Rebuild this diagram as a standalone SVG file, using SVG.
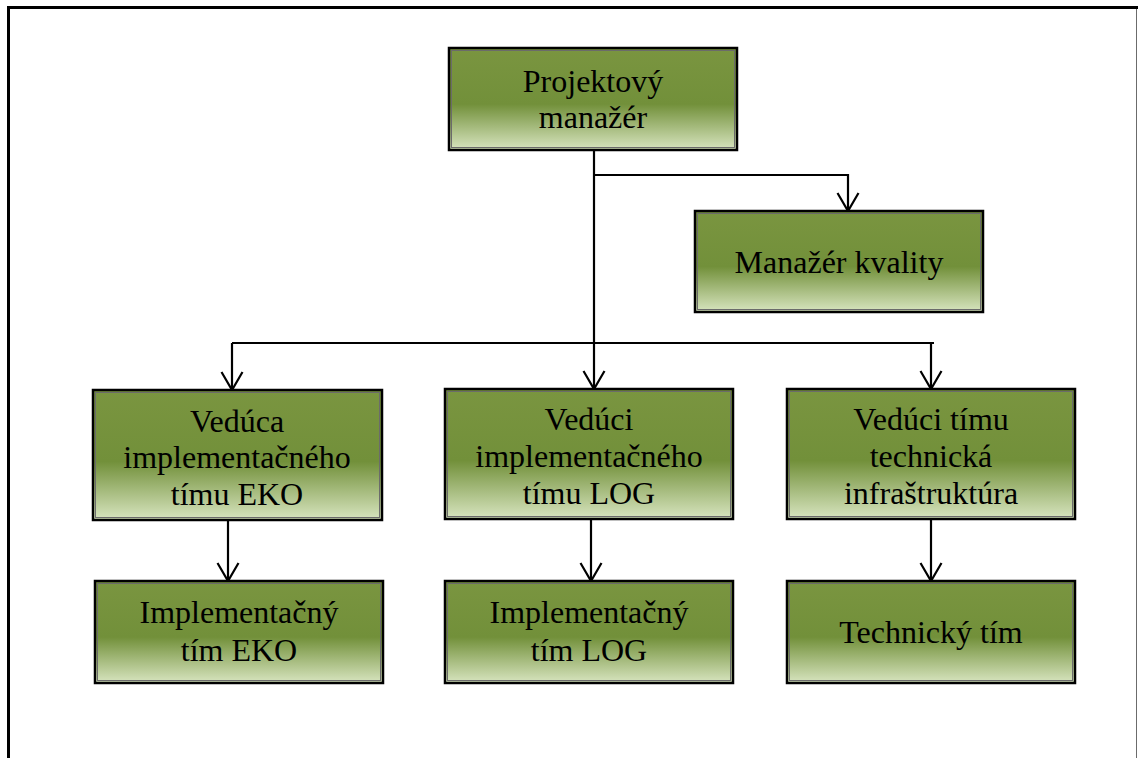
<svg xmlns="http://www.w3.org/2000/svg" width="1138" height="758" viewBox="0 0 1138 758">
  <defs>
    <linearGradient id="boxFill" x1="0" y1="0" x2="0" y2="1">
      <stop offset="0" stop-color="#7A9540"/>
      <stop offset="0.55" stop-color="#72903A"/>
      <stop offset="1" stop-color="#D8E5C0"/>
    </linearGradient>
    <marker id="arrow" markerUnits="userSpaceOnUse" markerWidth="40" markerHeight="40" refX="0" refY="0" orient="auto" overflow="visible">
      <path d="M-18,-10.5 L0,0 L-18,10.5" fill="none" stroke="#000" stroke-width="2.2"/>
    </marker>
  </defs>
  <style>
    .outer { fill: url(#boxFill); stroke: #000; stroke-width: 2.5; }
    .inner { fill: none; stroke: #6b6b6b; stroke-width: 1; }
    .label { font-family: "Liberation Serif", "Times New Roman", serif; font-size: 32px; fill: #000; text-anchor: middle; }
    .conn { fill: none; stroke: #000; stroke-width: 2.2; }
  </style>

  <rect width="1138" height="758" fill="#fff"/>

  <!-- page frame -->
  <g id="frame">
    <path d="M8.5,758 L8.5,7.5 L1138,7.5" fill="none" stroke="#000" stroke-width="3"/>
    <line x1="1136.5" y1="9" x2="1136.5" y2="758" stroke="#6b6b6b" stroke-width="1"/>
  </g>

  <!-- connectors -->
  <g id="connectors">
    <line class="conn" x1="594" y1="150" x2="594" y2="389" marker-end="url(#arrow)"/>
    <polyline class="conn" points="594,175 848,175 848,211" marker-end="url(#arrow)"/>
    <line class="conn" x1="232" y1="343" x2="934" y2="343"/>
    <line class="conn" x1="232" y1="343" x2="232" y2="390" marker-end="url(#arrow)"/>
    <line class="conn" x1="931" y1="343" x2="931" y2="389" marker-end="url(#arrow)"/>
    <line class="conn" x1="228" y1="520" x2="228" y2="581" marker-end="url(#arrow)"/>
    <line class="conn" x1="591" y1="519" x2="591" y2="581" marker-end="url(#arrow)"/>
    <line class="conn" x1="931" y1="519" x2="931" y2="581" marker-end="url(#arrow)"/>
  </g>

  <g id="projektovy-manazer">
    <rect class="outer" x="449" y="48" width="288" height="102"/>
    <rect class="inner" x="451.5" y="50.5" width="283" height="97"/>
    <text class="label" x="593" y="92">Projektový</text>
    <text class="label" x="593" y="128">manažér</text>
  </g>

  <g id="manazer-kvality">
    <rect class="outer" x="695" y="211" width="288" height="101"/>
    <rect class="inner" x="697.5" y="213.5" width="283" height="96"/>
    <text class="label" x="839" y="273">Manažér kvality</text>
  </g>

  <g id="veduca-eko">
    <rect class="outer" x="93" y="390" width="289" height="130"/>
    <rect class="inner" x="95.5" y="392.5" width="284" height="125"/>
    <text class="label" x="237" y="432">Vedúca</text>
    <text class="label" x="237" y="468">implementačného</text>
    <text class="label" x="237" y="505">tímu EKO</text>
  </g>

  <g id="veduci-log">
    <rect class="outer" x="445" y="389" width="288" height="130"/>
    <rect class="inner" x="447.5" y="391.5" width="283" height="125"/>
    <text class="label" x="589" y="430">Vedúci</text>
    <text class="label" x="589" y="467">implementačného</text>
    <text class="label" x="589" y="504">tímu LOG</text>
  </g>

  <g id="veduci-infra">
    <rect class="outer" x="787" y="389" width="288" height="130"/>
    <rect class="inner" x="789.5" y="391.5" width="283" height="125"/>
    <text class="label" x="931" y="430">Vedúci tímu</text>
    <text class="label" x="931" y="467">technická</text>
    <text class="label" x="931" y="504">infraštruktúra</text>
  </g>

  <g id="tim-eko">
    <rect class="outer" x="95" y="581" width="288" height="102"/>
    <rect class="inner" x="97.5" y="583.5" width="283" height="97"/>
    <text class="label" x="239" y="623">Implementačný</text>
    <text class="label" x="239" y="661">tím EKO</text>
  </g>

  <g id="tim-log">
    <rect class="outer" x="445" y="581" width="288" height="102"/>
    <rect class="inner" x="447.5" y="583.5" width="283" height="97"/>
    <text class="label" x="589" y="623">Implementačný</text>
    <text class="label" x="589" y="661">tím LOG</text>
  </g>

  <g id="technicky-tim">
    <rect class="outer" x="787" y="581" width="288" height="102"/>
    <rect class="inner" x="789.5" y="583.5" width="283" height="97"/>
    <text class="label" x="931" y="643">Technický tím</text>
  </g>
</svg>
